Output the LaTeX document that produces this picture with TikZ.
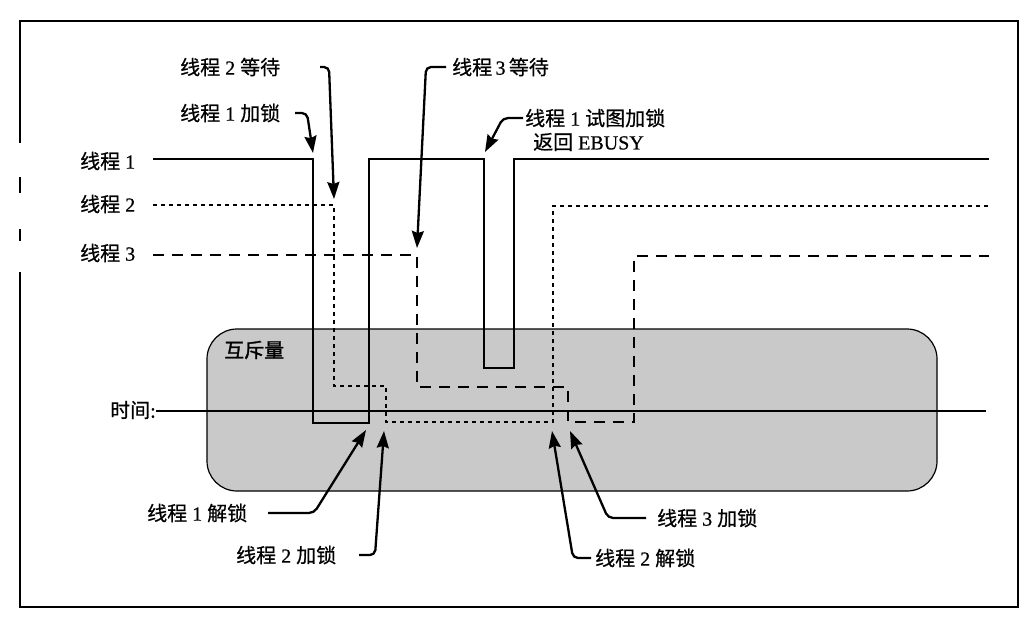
\documentclass[tikz,border=0pt]{standalone}
\usepackage{fontspec}
\setmainfont{Liberation Serif}[FakeBold=0.6]
\newfontfamily\cjk{Noto Sans CJK SC}[FakeBold=0.6]
\newfontfamily\cjkheavy{Noto Sans CJK SC}[FakeBold=1.4]
\usetikzlibrary{arrows.meta}
\definecolor{mutexgray}{RGB}{201,201,201}
\begin{document}
\begin{tikzpicture}[x=1pt,y=-1pt,
  lbl/.style={inner sep=0pt, anchor=west, font=\fontsize{20}{24}\selectfont},
  frameline/.style={line width=2.2pt},
  mutexbox/.style={line width=1.2pt, fill=mutexgray, rounded corners=30pt},
  timeline/.style={line width=2.2pt},
  thrA/.style={line width=1.7pt},
  thrB/.style={line width=1.7pt, dash pattern=on 4pt off 4pt},
  thrC/.style={line width=1.7pt, dash pattern=on 11pt off 8pt},
  callout/.style={line width=2.3pt, rounded corners=5pt, -{Stealth[length=17pt,width=12pt,inset=2pt]}},
]
\useasboundingbox (0,0) rectangle (1024,619);
\fill[white] (0,0) rectangle (1024,619);

% frame (broken on the left as printed)
\draw[frameline] (20,143) -- (20,21) -- (1018,21) -- (1018,607) -- (20,607) -- (20,272);
\draw[frameline] (20,177) -- (20,193);
\draw[frameline] (20,229) -- (20,241);

% mutex area
\draw[mutexbox] (207,329) rectangle (937,491);
\node[lbl] (mx) at (224,350) {\cjkheavy 互斥量};

% time axis
\node[lbl] (tm) at (110,410) {{\cjk 时间}:};
\coordinate (tend) at (986,411);
\draw[timeline] (tm.east |- tend) -- (tend);

% thread labels
\node[lbl] (t1) at (80,161) {{\cjk 线程} 1};
\node[lbl] (t2) at (80,204) {{\cjk 线程} 2};
\node[lbl] (t3) at (80,253) {{\cjk 线程} 3};
\coordinate (t1s) at (153,159);
\coordinate (t2s) at (153,205);
\coordinate (t3s) at (153,255);

% thread 1 (solid)
\draw[thrA] (t1s) -- (313,159) -- (313,423) -- (369,423) -- (369,159) -- (484,159)
  -- (484,368) -- (514,368) -- (514,159) -- (989,159);
% thread 2 (dotted)
\draw[thrB] (t2s) -- (334,205) -- (334,386) -- (386,386) -- (386,422) -- (553,422)
  -- (553,206) -- (989,206);
% thread 3 (dashed)
\draw[thrC] (t3s) -- (417,255) -- (417,387) -- (568,387) -- (568,422) -- (634,422)
  -- (634,256) -- (989,256);

% callout labels
\node[lbl] (w2) at (180,67) {{\cjk 线程} 2 {\cjk 等待}};
\node[lbl] (k1) at (180,113) {{\cjk 线程} 1 {\cjk 加锁}};
\node[lbl] (w3) at (452,67) {{\cjk 线程}\,3\,{\cjk 等待}};
\node[lbl] (try1) at (525,118) {{\cjk 线程} 1 {\cjk 试图加锁}};
\node[lbl] (busy) at (533,142) {{\cjk 返回} EBUSY};
\node[lbl] (u1) at (147,513) {{\cjk 线程} 1 {\cjk 解锁}};
\node[lbl] (k2) at (236,555) {{\cjk 线程} 2 {\cjk 加锁}};
\node[lbl] (u2) at (595,558) {{\cjk 线程} 2 {\cjk 解锁}};
\node[lbl] (k3) at (657,518) {{\cjk 线程} 3 {\cjk 加锁}};

% arrow targets
\coordinate (aw2) at (334,199);
\coordinate (ak1) at (313,153);
\coordinate (aw3) at (417,248);
\coordinate (atry) at (485,152);
\coordinate (au1) at (366,430);
\coordinate (ak2) at (384,431);
\coordinate (au2) at (552,431);
\coordinate (ak3) at (570,431);

% callouts
\draw[callout] (320,67) -- (329,67) -- (aw2);
\draw[callout] (295,113) -- (307,113) -- (ak1);
\draw[callout] ([xshift=-6pt]w3.west) -- (426,67) -- (aw3);
\draw[callout] ([xshift=-2pt]try1.west) -- (503,118) -- (atry);
\draw[callout] (268,513) -- (314,513) -- (au1);
\draw[callout] (359,555) -- (375,555) -- (ak2);
\draw[callout] ([xshift=-4pt]u2.west) -- (573,558) -- (au2);
\draw[callout] ([xshift=-11pt]k3.west) -- (608,518) -- (ak3);
\end{tikzpicture}
\end{document}
